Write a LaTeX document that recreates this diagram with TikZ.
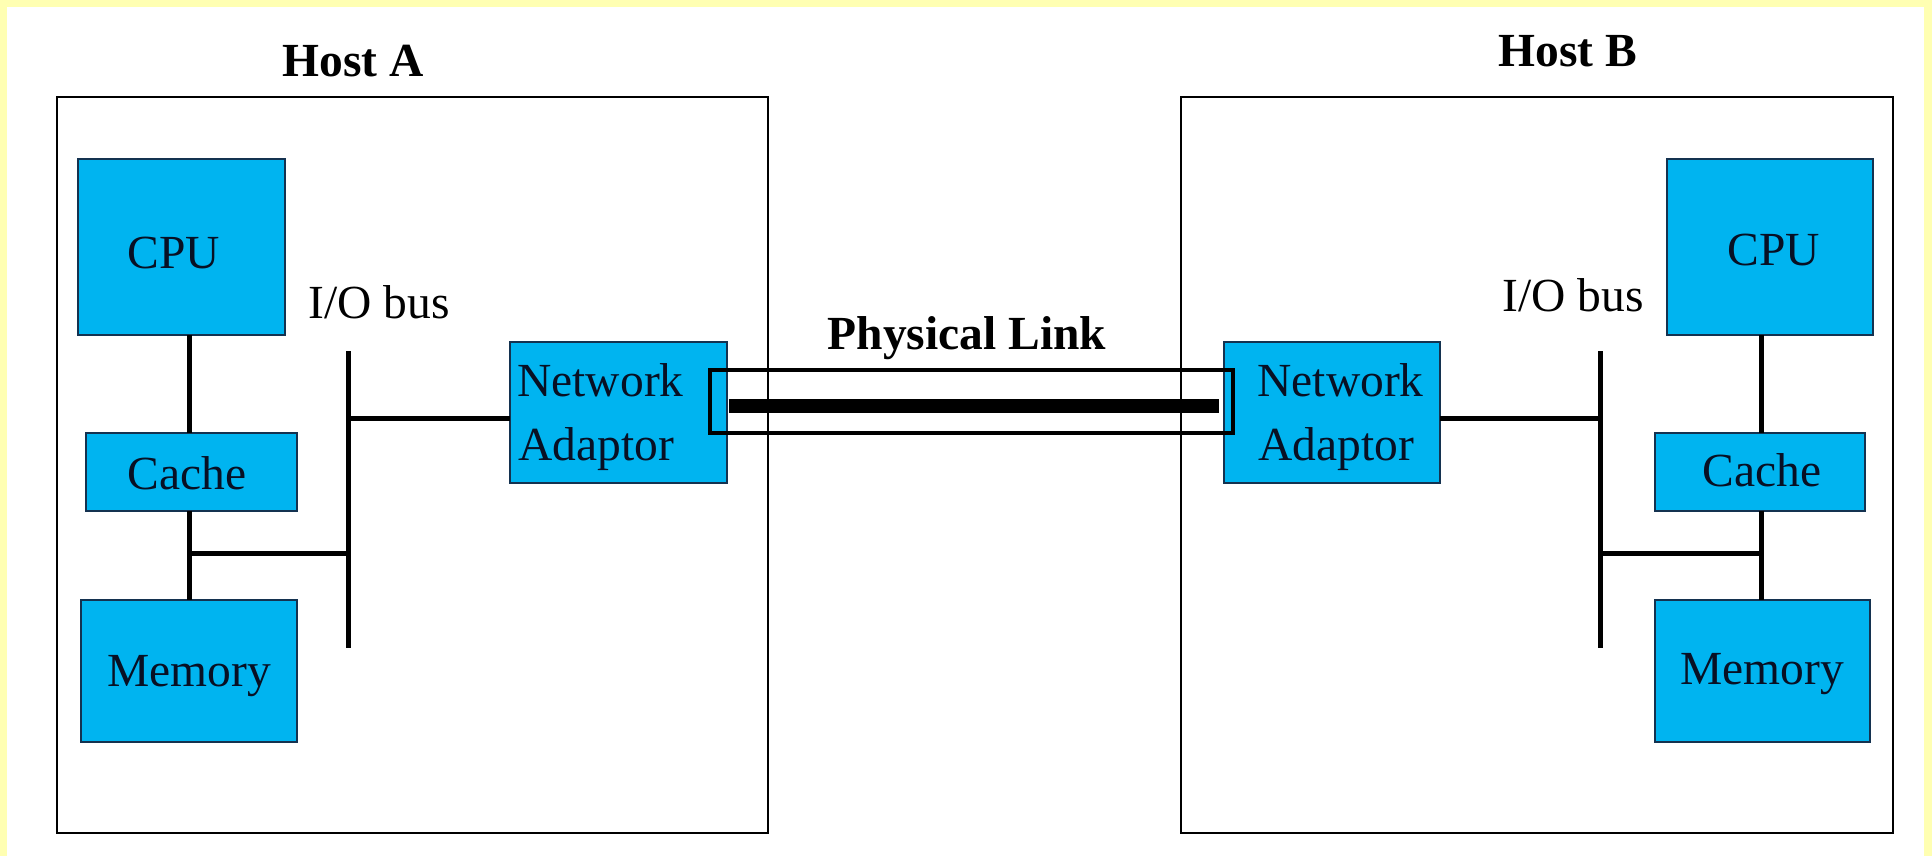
\documentclass[tikz,border=0pt]{standalone}
\usepackage{fontspec}
\setmainfont{Liberation Serif}
\definecolor{bgyellow}{RGB}{255,255,178}
\definecolor{compblue}{RGB}{0,180,240}
\definecolor{compedge}{RGB}{20,50,80}
\definecolor{comptext}{RGB}{8,16,36}
\tikzset{
  hostbox/.style={draw=black, line width=1.25pt, rectangle, inner sep=0pt, outer sep=0pt},
  compbox/.style={draw=compedge, fill=compblue, line width=0.7pt, rectangle, inner sep=0pt, outer sep=0pt},
  linkbox/.style={draw=black, line width=2pt, rectangle, inner sep=0pt, outer sep=0pt},
  wire/.style={line width=2.5pt, draw=black},
  fatwire/.style={line width=6.8pt, draw=black},
  lbl/.style={inner sep=0pt, anchor=base west, text=comptext, font=\fontsize{23.75}{28}\selectfont},
  lble/.style={inner sep=0pt, anchor=base east, text=black, font=\fontsize{23.75}{28}\selectfont},
  titlelbl/.style={inner sep=0pt, anchor=base, text=black, font=\fontsize{23.75}{28}\selectfont\bfseries},
}
\begin{document}
\begin{tikzpicture}[x=0.5pt,y=-0.5pt]
\useasboundingbox (0,0) rectangle (1932,856);
\fill[bgyellow] (0,0) rectangle (1932,856);
\fill[white] (7,7) rectangle (1924,856);

% host boxes
\node[hostbox, minimum width=355.5pt, minimum height=368pt] (hostA) at (412.5,465) {};
\node[hostbox, minimum width=356pt, minimum height=368pt] (hostB) at (1537,465) {};

% titles
\node[titlelbl] (tHostA) at (353,76) {Host A};
\node[titlelbl] (tHostB) at (1568,67) {Host B};
\node[titlelbl] (tLink) at (967,349) {Physical Link};

% Host A components
\node[compbox, minimum width=103.5pt, minimum height=88pt] (cpuA) at (181.5,247) {};
\node[compbox, minimum width=105.5pt, minimum height=39pt] (cacheA) at (191.5,472) {};
\node[compbox, minimum width=108pt, minimum height=71pt] (memA) at (189,671) {};
\node[compbox, minimum width=108.5pt, minimum height=70.5pt] (netA) at (618.5,412.5) {};

% Host B components
\node[compbox, minimum width=103pt, minimum height=88pt] (cpuB) at (1770,247) {};
\node[compbox, minimum width=105pt, minimum height=39pt] (cacheB) at (1760,472) {};
\node[compbox, minimum width=107.5pt, minimum height=71pt] (memB) at (1762.5,671) {};
\node[compbox, minimum width=108pt, minimum height=70.5pt] (netB) at (1332,412.5) {};

% labels
\node[lbl] (tCpuA) at (127,268) {CPU};
\node[lbl] (tCacheA) at (127,489) {Cache};
\node[lbl] (tMemA) at (107,686) {Memory};
\node[lbl] (tNetA1) at (517,396) {Network};
\node[lbl] (tNetA2) at (518,460) {Adaptor};
\node[lbl, text=black] (tBusA) at (308,318) {I/O bus};

\node[lbl] (tCpuB) at (1727,265) {CPU};
\node[lbl] (tCacheB) at (1702,486) {Cache};
\node[lbl] (tMemB) at (1680,684) {Memory};
\node[lbl] (tNetB1) at (1257,396) {Network};
\node[lbl] (tNetB2) at (1258,460) {Adaptor};
\node[lble] (tBusB) at (1644,311) {I/O bus};

% Host A wiring
\coordinate (vA) at (189,0);
\coordinate (jA) at (189,553);
\coordinate (busAtop) at (348,351);
\coordinate (busAbot) at (348,648);
\coordinate (rowA) at (0,418);
\draw[wire] (cpuA.south -| vA) -- (cacheA.north -| vA);
\draw[wire] (cacheA.south -| vA) -- (memA.north -| vA);
\draw[wire] (busAtop) -- (busAbot);
\draw[wire] (jA) -- (jA -| busAtop);
\draw[wire] (busAtop |- rowA) -- (netA.west |- rowA);

% Host B wiring
\coordinate (vB) at (1761,0);
\coordinate (jB) at (1761,553);
\coordinate (busBtop) at (1600,351);
\coordinate (busBbot) at (1600,648);
\draw[wire] (cpuB.south -| vB) -- (cacheB.north -| vB);
\draw[wire] (cacheB.south -| vB) -- (memB.north -| vB);
\draw[wire] (busBtop) -- (busBbot);
\draw[wire] (jB) -- (jB -| busBtop);
\draw[wire] (netB.east |- rowA) -- (busBtop |- rowA);

% physical link
\node[linkbox, minimum width=261.5pt, minimum height=31.5pt] (link) at (971.5,401.5) {};
\coordinate (barL) at (729,406);
\coordinate (barR) at (1219,406);
\draw[fatwire] (barL) -- (barR);
\end{tikzpicture}
\end{document}
